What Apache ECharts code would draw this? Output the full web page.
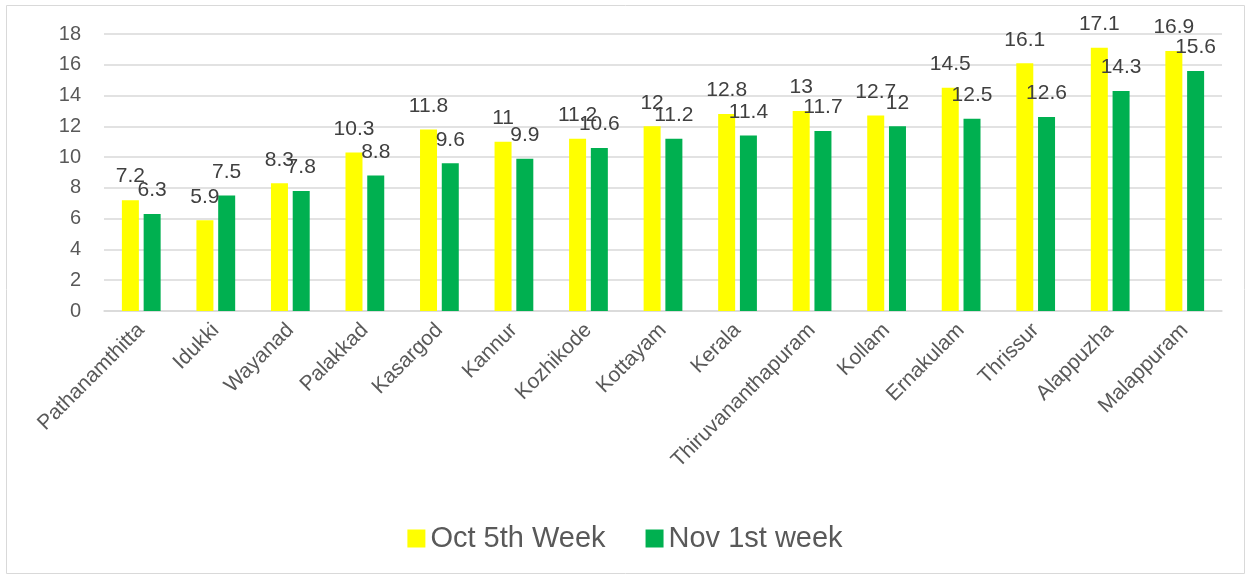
<!DOCTYPE html>
<html>
<head>
    <meta charset="utf-8">
    <title>ECharts</title>
    <script src="https://cdn.jsdelivr.net/npm/echarts@6/dist/echarts.min.js"></script>
</head>
<body style="margin:0">
    <div id="main" style="width:1250px;height:579px;"></div>
    <script type="text/javascript">
        var districts = ['Pathanamthitta', 'Idukki', 'Wayanad', 'Palakkad', 'Kasargod', 'Kannur', 'Kozhikode',
            'Kottayam', 'Kerala', 'Thiruvananthapuram', 'Kollam', 'Ernakulam', 'Thrissur', 'Alappuzha', 'Malappuram'];
        var octWeek5 = [7.2, 5.9, 8.3, 10.3, 11.8, 11, 11.2, 12, 12.8, 13, 12.7, 14.5, 16.1, 17.1, 16.9];
        var novWeek1 = [6.3, 7.5, 7.8, 8.8, 9.6, 9.9, 10.6, 11.2, 11.4, 11.7, 12, 12.5, 12.6, 14.3, 15.6];
        var seriesNames = ['Oct 5th Week', 'Nov 1st week'];

        var font = 'Liberation Sans, Arial, sans-serif';
        var chart = echarts.init(document.getElementById('main'));

        function makeSeries(name, data, color) {
            return {
                name: name,
                type: 'bar',
                data: data,
                barWidth: 17,
                barGap: '28%',
                itemStyle: { color: color },
                label: {
                    show: true,
                    position: 'top',
                    distance: 13,
                    color: '#404040',
                    fontSize: 21,
                    fontFamily: font
                }
            };
        }

        var option = {
            animation: false,
            graphic: [{
                type: 'rect',
                shape: { x: 6.5, y: 5.5, width: 1238, height: 568 },
                style: { fill: 'none', stroke: '#d9d9d9', lineWidth: 1 }
            }],
            grid: { left: 104, right: 28, top: 34, bottom: 268 },
            legend: {
                data: seriesNames,
                bottom: 21,
                left: 'center',
                itemWidth: 18,
                itemHeight: 18,
                itemGap: 40,
                icon: 'rect',
                textStyle: { color: '#595959', fontSize: 29, fontFamily: font }
            },
            xAxis: {
                type: 'category',
                data: districts,
                axisLine: { lineStyle: { color: '#d9d9d9', width: 1.5 } },
                axisTick: { show: false },
                axisLabel: {
                    interval: 0,
                    rotate: 45,
                    margin: 16,
                    color: '#595959',
                    fontSize: 21,
                    fontFamily: font
                }
            },
            yAxis: {
                type: 'value',
                min: 0,
                max: 18,
                interval: 2,
                axisLine: { show: false },
                axisTick: { show: false },
                splitLine: { lineStyle: { color: '#d9d9d9', width: 1.5 } },
                axisLabel: { color: '#595959', fontSize: 20, margin: 23, fontFamily: font }
            },
            series: [
                makeSeries(seriesNames[0], octWeek5, '#ffff00'),
                makeSeries(seriesNames[1], novWeek1, '#00b050')
            ]
        };

        chart.setOption(option);
    </script>
</body>
</html>
